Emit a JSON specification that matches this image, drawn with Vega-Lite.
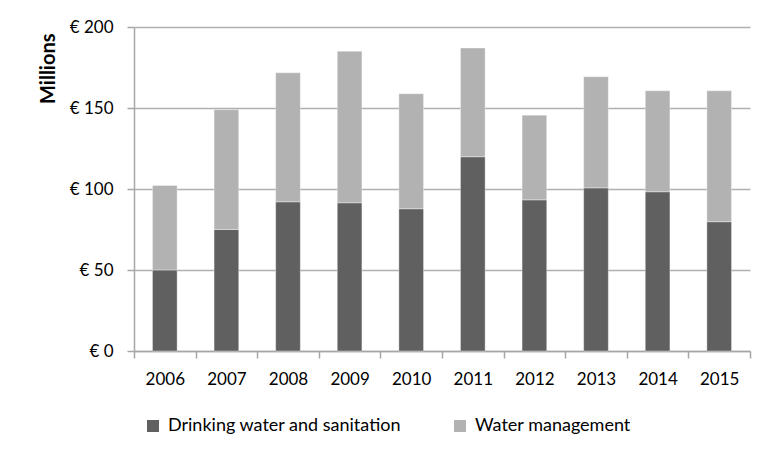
{
  "$schema": "https://vega.github.io/schema/vega-lite/v6.json",
  "width": 616,
  "height": 324,
  "autosize": {"type": "none"},
  "padding": {"left": 134, "top": 27, "right": 16, "bottom": 101},
  "background": "white",
  "config": {
    "font": "Lato",
    "view": {"stroke": null},
    "axis": {"labelFont": "Lato", "titleFont": "Lato", "labelColor": "#000000", "titleColor": "#000000"}
  },
  "data": {
    "values": [
      {"year": "2006", "series": "Drinking water and sanitation", "value": 50.0, "ord": 1},
      {"year": "2006", "series": "Water management", "value": 52.2, "ord": 2},
      {"year": "2007", "series": "Drinking water and sanitation", "value": 75.0, "ord": 1},
      {"year": "2007", "series": "Water management", "value": 74.0, "ord": 2},
      {"year": "2008", "series": "Drinking water and sanitation", "value": 92.1, "ord": 1},
      {"year": "2008", "series": "Water management", "value": 79.6, "ord": 2},
      {"year": "2009", "series": "Drinking water and sanitation", "value": 91.5, "ord": 1},
      {"year": "2009", "series": "Water management", "value": 93.5, "ord": 2},
      {"year": "2010", "series": "Drinking water and sanitation", "value": 87.8, "ord": 1},
      {"year": "2010", "series": "Water management", "value": 71.0, "ord": 2},
      {"year": "2011", "series": "Drinking water and sanitation", "value": 119.9, "ord": 1},
      {"year": "2011", "series": "Water management", "value": 67.1, "ord": 2},
      {"year": "2012", "series": "Drinking water and sanitation", "value": 93.3, "ord": 1},
      {"year": "2012", "series": "Water management", "value": 52.3, "ord": 2},
      {"year": "2013", "series": "Drinking water and sanitation", "value": 100.7, "ord": 1},
      {"year": "2013", "series": "Water management", "value": 68.6, "ord": 2},
      {"year": "2014", "series": "Drinking water and sanitation", "value": 98.3, "ord": 1},
      {"year": "2014", "series": "Water management", "value": 62.3, "ord": 2},
      {"year": "2015", "series": "Drinking water and sanitation", "value": 79.8, "ord": 1},
      {"year": "2015", "series": "Water management", "value": 80.8, "ord": 2}
    ]
  },
  "mark": {"type": "bar", "width": {"band": 0.4}, "strokeWidth": 1, "strokeOpacity": 0.35, "stroke": "#ffffff"},
  "encoding": {
    "x": {
      "field": "year",
      "type": "nominal",
      "scale": {"paddingInner": 0, "paddingOuter": 0},
      "axis": {
        "title": null,
        "labelAngle": 0,
        "labelFontSize": 17,
        "labelPadding": 13,
        "tickBand": "extent",
        "tickSize": 7,
        "tickColor": "#a6a6a6",
        "tickWidth": 1.5,
        "domainColor": "#a6a6a6",
        "domainWidth": 1.5,
        "grid": false
      }
    },
    "y": {
      "field": "value",
      "type": "quantitative",
      "stack": "zero",
      "scale": {"domain": [0, 200], "nice": false},
      "axis": {
        "values": [0, 50, 100, 150, 200],
        "labelExpr": "'€ ' + datum.value",
        "labelFontSize": 17,
        "labelPadding": 14,
        "tickSize": 7,
        "tickColor": "#a6a6a6",
        "tickWidth": 1.5,
        "domainColor": "#a6a6a6",
        "domainWidth": 1.5,
        "gridColor": "#b0b0b0",
        "gridWidth": 1.5,
        "title": "Millions",
        "titleFontSize": 20,
        "titleFontWeight": "bold",
        "titleAngle": -90,
        "titleAlign": "right",
        "titleBaseline": "middle",
        "titleX": -86,
        "titleY": 6
      }
    },
    "color": {
      "field": "series",
      "type": "nominal",
      "scale": {"domain": ["Drinking water and sanitation", "Water management"], "range": ["#606060", "#b2b2b2"]},
      "legend": {
        "title": null,
        "orient": "none",
        "direction": "horizontal",
        "legendX": 10,
        "legendY": 390,
        "symbolType": "square",
        "symbolSize": 144,
        "symbolStrokeWidth": 0,
        "labelFontSize": 18,
        "labelFont": "Lato",
        "labelColor": "#000000",
        "labelOffset": 6,
        "labelLimit": 400,
        "columnPadding": 49
      }
    },
    "order": {"field": "ord", "type": "quantitative"}
  }
}
